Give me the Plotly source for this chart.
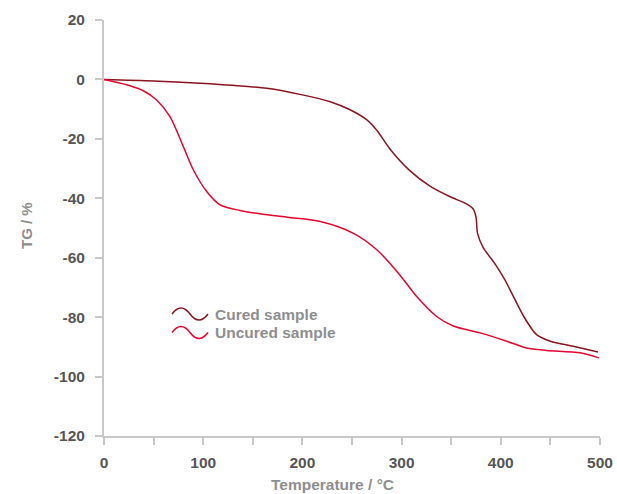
import plotly.graph_objects as go

# Cured sample (temperature °C, TG %)
cured_T = [0, 50, 97, 130, 164, 200, 228, 248, 265, 275, 288, 308, 329, 349, 365, 372, 375, 376.6, 382, 395, 404, 411, 423, 436, 450, 473, 498]
cured_TG = [0, -0.5, -1.3, -2.0, -3.0, -5.2, -7.5, -10.2, -13.6, -17.1, -23.3, -30.6, -36, -39.5, -41.8, -43.5, -46.3, -51.9, -56.4, -62.5, -67.4, -71.9, -79.7, -85.9, -88.1, -89.8, -91.7]

# Uncured sample
uncured_T = [0, 22.9, 39.6, 53, 66.5, 80, 90, 103.5, 117, 137, 157, 185, 218, 251, 275, 298, 315, 335, 352, 379, 406, 426, 446, 480, 499]
uncured_TG = [0, -1.8, -3.8, -6.9, -12.5, -22.6, -30.4, -37.7, -42.2, -44.1, -45.2, -46.4, -47.8, -51.7, -57.3, -65.7, -73, -79.7, -83, -85.3, -88.1, -90.4, -91.2, -92, -93.7]

x_tickvals = [0, 50, 100, 150, 200, 250, 300, 350, 400, 450, 500]
x_ticktext = ["<b>0</b>", "", "<b>100</b>", "", "<b>200</b>", "", "<b>300</b>", "", "<b>400</b>", "", "<b>500</b>"]
y_tickvals = [20, 0, -20, -40, -60, -80, -100, -120]
y_ticktext = ["<b>20</b>", "<b>0</b>", "<b>-20</b>", "<b>-40</b>", "<b>-60</b>", "<b>-80</b>", "<b>-100</b>", "<b>-120</b>"]
series_names = ["Cured sample", "Uncured sample"]
series_colors = ["#8a1520", "#e6052d"]

FONT = "Liberation Sans, Arial, Helvetica, sans-serif"
axis_col = "#c8c8c8"
label_col = "#555555"
title_col = "#8e8e8e"

W, H = 617, 494
# plot area in screen pixels
PL, PR, PT, PB = 104, 600, 20, 436
plot_w = PR - PL
plot_h = PB - PT


def px(x):
    return (x - PL) / plot_w


def py(y):
    return (PB - y) / plot_h


fig = go.Figure()
fig.add_trace(go.Scatter(x=cured_T, y=cured_TG, mode="lines", name=series_names[0], showlegend=False,
                         line=dict(color=series_colors[0], width=1.5, shape="spline", smoothing=0.8)))
fig.add_trace(go.Scatter(x=uncured_T, y=uncured_TG, mode="lines", name=series_names[1], showlegend=False,
                         line=dict(color=series_colors[1], width=1.5, shape="spline", smoothing=0.8)))

# custom legend: wavy glyph + label
shapes = []
annotations = []
for i, (nm, col) in enumerate(zip(series_names, series_colors)):
    yc = 314 + i * 18.5
    x0 = 172
    path = (f"M {px(x0)},{py(yc)} Q {px(x0 + 9)},{py(yc - 12)} {px(x0 + 18)},{py(yc)} "
            f"T {px(x0 + 36)},{py(yc)}")
    shapes.append(dict(type="path", path=path, xref="paper", yref="paper",
                       line=dict(color=col, width=1.5)))
    annotations.append(dict(text=f"<b>{nm}</b>", x=px(213), y=py(yc), xref="paper", yref="paper",
                            xanchor="left", yanchor="middle", showarrow=False,
                            font=dict(size=15.5, color=title_col, family=FONT)))

annotations.append(dict(text="<b>TG / %</b>", x=px(26), y=py(226), xref="paper", yref="paper",
                        showarrow=False, textangle=-90, xanchor="center", yanchor="middle",
                        font=dict(size=15, color=title_col, family=FONT)))
annotations.append(dict(text="<b>Temperature / °C</b>", x=px(332), y=py(485), xref="paper", yref="paper",
                        showarrow=False, xanchor="center", yanchor="middle",
                        font=dict(size=15.5, color=title_col, family=FONT)))

fig.update_layout(
    width=W, height=H, autosize=False,
    margin=dict(l=PL, r=W - PR, t=PT, b=H - PB, autoexpand=False),
    paper_bgcolor="white", plot_bgcolor="white",
    font=dict(family=FONT),
    showlegend=False,
    shapes=shapes,
    annotations=annotations,
    xaxis=dict(range=[0, 500], tickvals=x_tickvals, ticktext=x_ticktext, automargin=False,
               showgrid=False, zeroline=False, showline=True, linecolor=axis_col, linewidth=2,
               ticks="outside", ticklen=7, tickcolor=axis_col, tickwidth=1.5, ticklabelstandoff=4,
               tickfont=dict(size=15.5, color=label_col, family=FONT)),
    yaxis=dict(range=[-120, 20], tickvals=y_tickvals, ticktext=y_ticktext, automargin=False,
               showgrid=False, zeroline=False, showline=True, linecolor=axis_col, linewidth=2,
               ticks="outside", ticklen=7, tickcolor=axis_col, tickwidth=1.5, ticklabelstandoff=7,
               tickfont=dict(size=15.5, color=label_col, family=FONT)),
)

# remove the browser's default body margin so the figure fills the window exactly
fig.write_html("out.html", config={"displayModeBar": False},
               post_script="document.body.style.margin='0';document.body.style.overflow='hidden';")
